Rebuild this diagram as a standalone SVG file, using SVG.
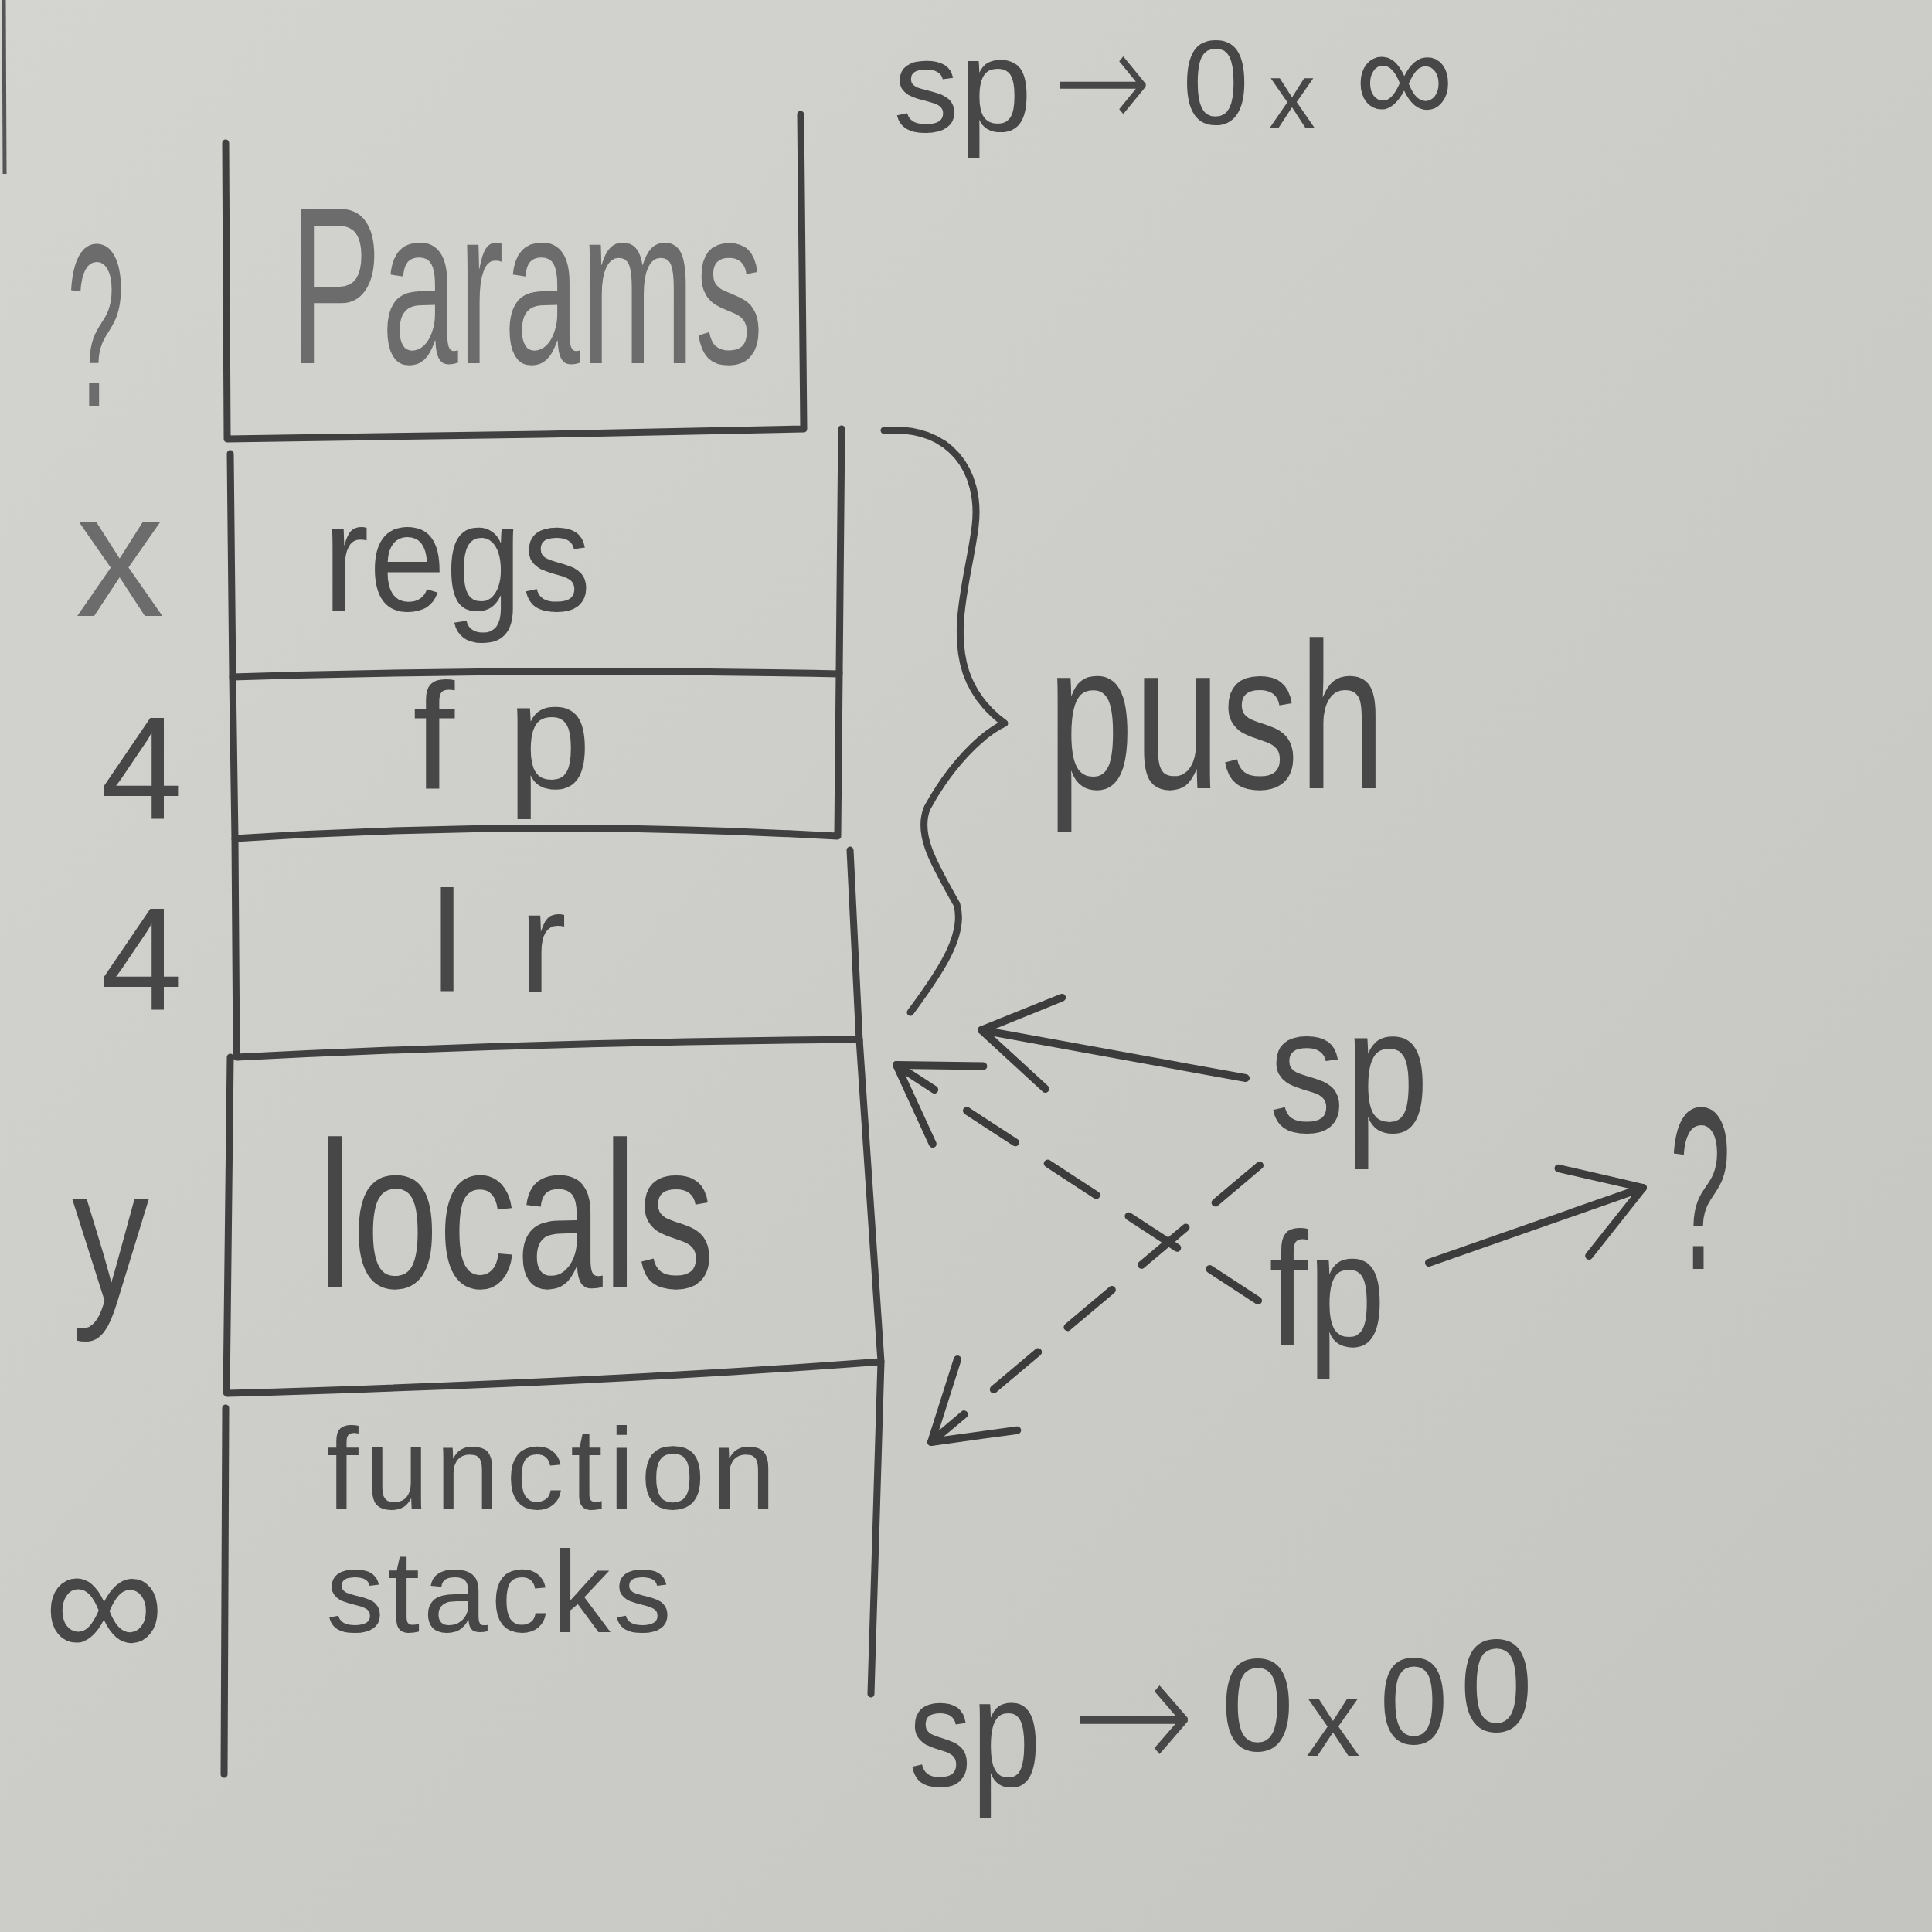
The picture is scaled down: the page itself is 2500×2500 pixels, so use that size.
<svg xmlns="http://www.w3.org/2000/svg" width="2500" height="2500" viewBox="0 0 2500 2500">
<defs>
<linearGradient id="paper" x1="0" y1="0" x2="1" y2="1">
<stop offset="0" stop-color="#d4d5d1"/>
<stop offset="1" stop-color="#c4c5c1"/>
</linearGradient>
<marker id="openArrow" viewBox="-110 -75 120 150" markerWidth="120" markerHeight="150" refX="0" refY="0" orient="auto" markerUnits="userSpaceOnUse">
<path d="M-95,-60 L0,0 L-95,60" fill="none" stroke="#3c3c3c" stroke-width="10" stroke-linecap="round" stroke-linejoin="round"/>
</marker>
</defs>
<style>
.ln{fill:none;stroke:#404040;stroke-width:9;stroke-linecap:round;stroke-linejoin:round}
.cn{fill:none;stroke:#3c3c3c;stroke-width:10;stroke-linecap:round}
.dash{stroke-dasharray:75 50}
.t{font-family:"Liberation Sans","DejaVu Sans",Arial,sans-serif;fill:#474747}
.ar{font-family:"DejaVu Sans","Liberation Sans",sans-serif;font-weight:200}
.lt{fill:#6c6c6c}
.mid{text-anchor:middle}
</style>
<rect width="2500" height="2500" fill="url(#paper)"/>
<path d="M5,0 L6,225" stroke="#555" stroke-width="5" fill="none"/>

<g id="node-params">
<path class="ln" d="M292,185 L294,568 L700,562 L1040,555 M1036,148 L1040,555"/>
<text class="t lt" x="375" y="470" font-size="290" textLength="613" lengthAdjust="spacingAndGlyphs">Params</text>
<text class="t lt mid" x="124" y="525" font-size="300" textLength="75" lengthAdjust="spacingAndGlyphs">?</text>
</g>

<g id="node-regs">
<path class="ln" d="M298,587 L301,876 M1089,555 L1086,870 M301,876 Q700,864 1086,872"/>
<text class="t" x="418" y="790" font-size="200" textLength="347" lengthAdjust="spacingAndGlyphs">regs</text>
<text class="t lt mid" x="155" y="797" font-size="230">x</text>
</g>

<g id="node-fp">
<path class="ln" d="M301,876 L304,1085 M1086,870 L1084,1081 M304,1085 Q690,1060 1084,1082"/>
<text class="t" x="534" y="1020" font-size="195" textLength="231" lengthAdjust="spacing">fp</text>
<text class="t mid" x="183" y="1060" font-size="190">4</text>
</g>

<g id="node-lr">
<path class="ln" d="M304,1085 L306,1366 M1100,1100 L1112,1347 M306,1368 Q700,1348 1112,1345"/>
<text class="t" x="558" y="1283" font-size="185" textLength="175" lengthAdjust="spacing">lr</text>
<text class="t mid" x="183" y="1307" font-size="190">4</text>
</g>

<g id="node-locals">
<path class="ln" d="M298,1368 L293,1802 M1112,1345 L1140,1762 M294,1803 Q750,1790 1085,1766 L1140,1762"/>
<text class="t" x="411" y="1666" font-size="270" textLength="514" lengthAdjust="spacingAndGlyphs">locals</text>
<text class="t mid" x="143" y="1684" font-size="250" textLength="100" lengthAdjust="spacingAndGlyphs">y</text>
</g>

<g id="node-function-stacks">
<path class="ln" d="M292,1822 L290,2296 M1140,1762 L1127,2192"/>
<text class="t" x="422" y="1953" font-size="150" textLength="582" lengthAdjust="spacing">function</text>
<text class="t" x="422" y="2112" font-size="150" textLength="447" lengthAdjust="spacing">stacks</text>
<text class="t mid" x="135" y="2148" font-size="220">∞</text>
</g>

<g id="node-sp-top">
<text class="t" font-size="170"><tspan x="1156" y="170">sp</tspan><tspan class="ar" x="1363" y="168" font-size="185" textLength="127" lengthAdjust="spacingAndGlyphs">→</tspan><tspan x="1530" y="160" font-size="155">0</tspan><tspan x="1642" y="165" font-size="120">x</tspan><tspan x="1753" y="160" font-size="180">∞</tspan></text>
</g>

<g id="node-sp-bottom">
<text class="t" font-size="200"><tspan x="1176" y="2311" textLength="171" lengthAdjust="spacingAndGlyphs">sp</tspan><tspan class="ar" x="1387" y="2294" font-size="220" textLength="159" lengthAdjust="spacingAndGlyphs">→</tspan><tspan x="1580" y="2265" font-size="170">0</tspan><tspan x="1690" y="2272" font-size="140">x</tspan><tspan x="1785" y="2256" font-size="160">0</tspan><tspan x="1889" y="2240" font-size="170">0</tspan></text>
</g>

<g id="node-push">
<text class="t" x="1355" y="1020" font-size="270" textLength="438" lengthAdjust="spacingAndGlyphs">push</text>
</g>

<g id="node-sp">
<text class="t" x="1642" y="1465" font-size="230" textLength="207" lengthAdjust="spacingAndGlyphs">sp</text>
</g>

<g id="node-fp-ptr">
<text class="t" x="1642" y="1741" font-size="210" textLength="151" lengthAdjust="spacingAndGlyphs">fp</text>
</g>

<g id="node-unknown">
<text class="t mid" x="2200" y="1642" font-size="300" textLength="80" lengthAdjust="spacingAndGlyphs">?</text>
</g>

<g id="connectors">
<path class="ln" d="M1144,557 C1230,550 1270,610 1262,680 C1255,740 1230,810 1250,870 C1262,905 1285,925 1300,936 C1270,950 1230,990 1200,1045 C1185,1080 1210,1120 1238,1170 C1250,1210 1215,1260 1178,1310"/>
<path class="cn" d="M1612,1395 L1270,1333" marker-end="url(#openArrow)"/>
<path class="cn dash" d="M1628,1683 L1160,1378" marker-end="url(#openArrow)"/>
<path class="cn dash" d="M1630,1508 L1205,1866" marker-end="url(#openArrow)"/>
<path class="cn" d="M1849,1634 L2126,1537" marker-end="url(#openArrow)"/>
</g>
</svg>
